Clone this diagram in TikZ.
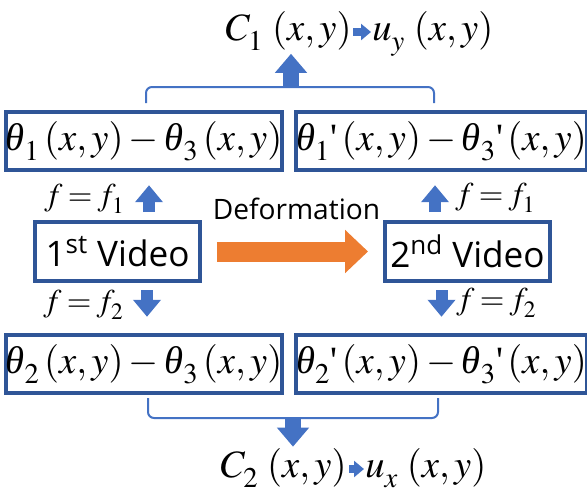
\documentclass[tikz,border=0pt]{standalone}
\usepackage{mathptmx}
\usepackage[no-math]{fontspec}
\setmainfont{Liberation Serif}
\setsansfont{Open Sans}
\usepackage{tikz}
\usetikzlibrary{arrows.meta, positioning, calc}
\definecolor{boxblue}{RGB}{47,85,151}
\definecolor{arrblue}{RGB}{68,114,196}
\definecolor{deforange}{RGB}{237,125,49}
\newcommand{\angth}{\mbox{\itshape θ}}
\newcommand{\apos}{\mbox{\textquotesingle}}
\everymath{\fontdimen16\textfont2=0.27em\relax\fontdimen17\textfont2=0.27em\relax}
\tikzset{
  phasebox/.style={rectangle, draw=boxblue, line width=0.08cm, inner sep=0pt,
    minimum height=1.17cm, font=\fontsize{22}{26}\selectfont},
  videobox/.style={rectangle, draw=boxblue, line width=0.08cm, inner sep=0pt,
    minimum width=3.3cm, minimum height=1.18cm, font=\sffamily\fontsize{20}{24}\selectfont},
  eqtext/.style={inner sep=0pt, font=\fontsize{22}{26}\selectfont},
  freqtext/.style={inner sep=0pt, font=\fontsize{18}{22}\selectfont},
  blockarrow/.style={-{Triangle[length=0.38cm, width=0.62cm]}, line width=0.32cm, color=arrblue},
  freqarrow/.style={-{Triangle[length=0.34cm, width=0.54cm]}, line width=0.24cm, color=arrblue},
  smallarrow/.style={-{Triangle[length=0.2cm, width=0.32cm]}, line width=0.17cm, color=arrblue},
  deformarrow/.style={-{Triangle[length=0.46cm, width=0.84cm]}, line width=0.4cm, color=deforange},
  bracket/.style={line width=0.04cm, color=arrblue, rounded corners=0.12cm}
}
\begin{document}
\begin{tikzpicture}[x=0.02cm, y=-0.02cm]
  \useasboundingbox (0,0) rectangle (587,491);

  \node[phasebox, minimum width=5.4cm] (t1) at (144,141) {$\angth_1\left(x,y\right)-\angth_3\left(x,y\right)$};
  \node[phasebox, minimum width=5.7cm] (t1p) at (441.5,141) {$\angth_1\apos\left(x,y\right)-\angth_3\apos\left(x,y\right)$};
  \node[phasebox, minimum width=5.4cm] (t2) at (144,364) {$\angth_2\left(x,y\right)-\angth_3\left(x,y\right)$};
  \node[phasebox, minimum width=5.7cm] (t2p) at (441.5,364) {$\angth_2\apos\left(x,y\right)-\angth_3\apos\left(x,y\right)$};
  \node[videobox] (v1) at (117.5,251.5) {1\textsuperscript{st} Video};
  \node[videobox] (v2) at (467.5,251.5) {2\textsuperscript{nd} Video};

  \node[eqtext, anchor=base east] (c1) at (352,40) {$C_1\,\left(x,y\right)$};
  \node[eqtext, anchor=base west] (uy) at (372,40) {$u_y\,\left(x,y\right)$};
  \node[eqtext, anchor=base east] (c2) at (347,477) {$C_2\,\left(x,y\right)$};
  \node[eqtext, anchor=base west] (ux) at (365,477) {$u_x\,\left(x,y\right)$};

  \node[font=\sffamily\fontsize{16}{19}\selectfont, inner sep=0pt, anchor=base] (deflabel) at (296.5,219) {Deformation};

  \node[freqtext, anchor=base east] (fl1) at (125,205) {$f\mkern-1mu=\mkern-1mu f_1$};
  \node[freqtext, anchor=base west] (fr1) at (455,204) {$f\mkern-1mu=\mkern-1mu f_1$};
  \node[freqtext, anchor=base east] (fl2) at (124,311) {$f\mkern-1mu=\mkern-1mu f_2$};
  \node[freqtext, anchor=base west] (fr2) at (456,309) {$f\mkern-1mu=\mkern-1mu f_2$};

  \coordinate (topmid) at (291,87);
  \coordinate (botmid) at (293,418);
  \draw[bracket] (146,103) |- (topmid) -| (434,103);
  \draw[bracket] (148,398) |- (botmid) -| (438,398);

  \draw[blockarrow, shorten >=0.06cm] (topmid) -- (topmid |- c1.south);
  \draw[blockarrow, shorten >=0.02cm] (botmid) -- (botmid |- c2.north);
  \draw[deformarrow, shorten <=0.3cm, shorten >=0.3cm] (v1) -- (v2);

  \draw[freqarrow, shorten <=0.16cm, shorten >=0.26cm] ($(v1.north -| t1.south)+(5,0)$) -- ($(t1.south)+(5,0)$);
  \draw[freqarrow, shorten <=0.16cm, shorten >=0.26cm] ($(v2.north -| t1p.south)+(-6.5,0)$) -- ($(t1p.south)+(-6.5,0)$);
  \draw[freqarrow, shorten <=0.14cm, shorten >=0.32cm] ($(v1.south -| t2.north)+(3,0)$) -- ($(t2.north)+(3,0)$);
  \draw[freqarrow, shorten <=0.14cm, shorten >=0.32cm] (v2.south -| t2p.north) -- (t2p.north);

  \draw[smallarrow] ($(c1.base east)+(1,-8)$) -- ($(uy.base west)+(-1,-8)$);
  \draw[smallarrow] ($(c2.base east)+(2,-8)$) -- ($(ux.base west)+(-1,-8)$);
\end{tikzpicture}
\end{document}
